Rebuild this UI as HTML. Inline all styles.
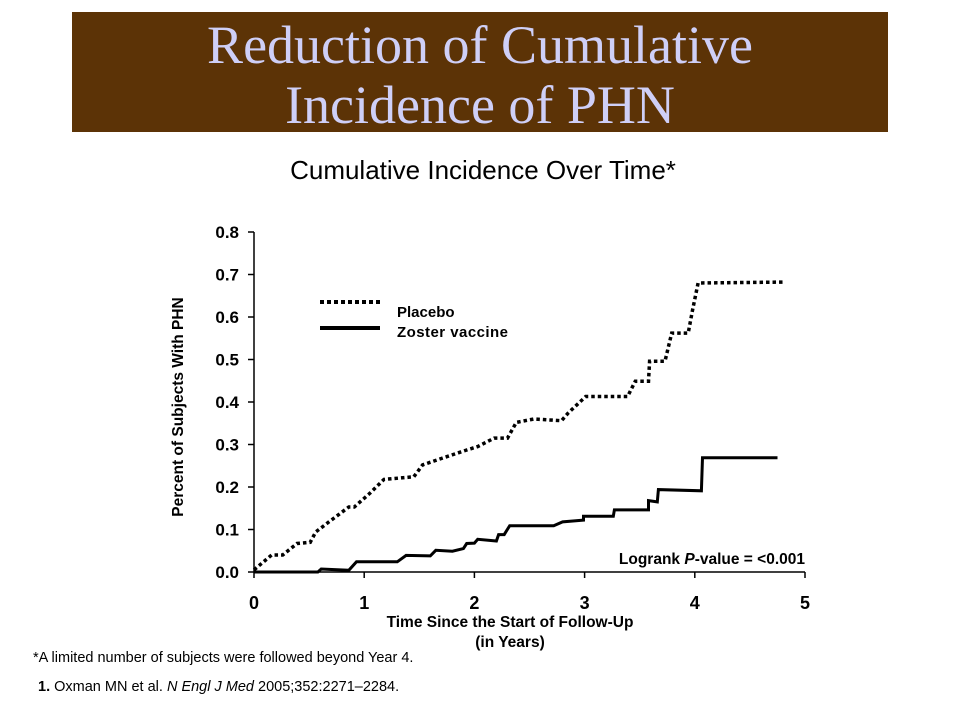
<!DOCTYPE html>
<html><head><meta charset="utf-8"><style>
body{margin:0;width:960px;height:720px;background:#fff;overflow:hidden;font-family:"Liberation Sans",Arial,sans-serif}
</style></head><body>
<svg width="960" height="720" xmlns="http://www.w3.org/2000/svg">
<rect x="72" y="12" width="816" height="120" fill="#5c3306"/>
<text x="480" y="63" text-anchor="middle" font-family="Liberation Serif,serif" font-size="54" fill="#cfcff7">Reduction of Cumulative</text>
<text x="480" y="123" text-anchor="middle" font-family="Liberation Serif,serif" font-size="54" fill="#cfcff7">Incidence of PHN</text>
<text x="483" y="179" text-anchor="middle" font-size="26" fill="#000">Cumulative Incidence Over Time*</text>
<g id="axes"></g>
<g id="series"></g>
<line x1="320" y1="302" x2="380" y2="302" stroke="#000" stroke-width="4" stroke-dasharray="4,3"/>
<line x1="320" y1="328" x2="380" y2="328" stroke="#000" stroke-width="4"/>
<text x="397" y="317" font-size="15" font-weight="bold">Placebo</text>
<text x="397" y="337" font-size="15" font-weight="bold" textLength="111">Zoster vaccine</text>
<text x="805" y="564" text-anchor="end" font-size="15.5" font-weight="bold">Logrank <tspan font-style="italic">P</tspan>-value = &lt;0.001</text>
<text x="510" y="627" text-anchor="middle" font-size="15.5" font-weight="bold">Time Since the Start of Follow-Up</text>
<text x="510" y="647" text-anchor="middle" font-size="15.5" font-weight="bold">(in Years)</text>
<text transform="translate(183,407) rotate(-90)" text-anchor="middle" font-size="15.5" font-weight="bold">Percent of Subjects With PHN</text>
<text x="33" y="662" font-size="14.5">*A limited number of subjects were followed beyond Year 4.</text>
<text x="38" y="691" font-size="14.5"><tspan font-weight="bold">1.</tspan>  Oxman MN et al. <tspan font-style="italic">N Engl J Med</tspan> 2005;352:2271–2284.</text>
</svg>
<script>
const yTicks=["0.0","0.1","0.2","0.3","0.4","0.5","0.6","0.7","0.8"];
const xTicks=["0","1","2","3","4","5"];
const placeboT=[0,0.16,0.26,0.39,0.51,0.56,0.68,0.86,0.91,1.05,1.18,1.45,1.53,1.70,1.93,2.03,2.18,2.30,2.38,2.54,2.79,2.85,3.01,3.39,3.46,3.58,3.59,3.73,3.79,3.94,3.98,4.03,4.80];
const placeboV=[0.005,0.04,0.04,0.067,0.07,0.094,0.118,0.153,0.153,0.185,0.218,0.224,0.252,0.267,0.287,0.295,0.315,0.315,0.352,0.36,0.356,0.374,0.413,0.413,0.449,0.449,0.496,0.496,0.562,0.562,0.617,0.68,0.682];
const vaccineT=[0,0.58,0.61,0.86,0.93,1.30,1.38,1.60,1.65,1.80,1.90,1.93,2.0,2.03,2.2,2.22,2.27,2.32,2.72,2.80,2.99,2.99,3.26,3.27,3.58,3.58,3.66,3.67,4.06,4.07,4.75];
const vaccineV=[0,0,0.007,0.004,0.024,0.024,0.039,0.038,0.051,0.049,0.055,0.067,0.068,0.077,0.073,0.088,0.088,0.109,0.109,0.118,0.122,0.131,0.131,0.146,0.146,0.168,0.165,0.194,0.191,0.269,0.269];
const NS="http://www.w3.org/2000/svg";
const X0=254,XS=110.2,Y0=572,YS=425;
const xs=v=>X0+v*XS, ys=v=>Y0-v*YS;
const axes=document.getElementById('axes'),series=document.getElementById('series');
function mk(tag,attrs,parent){const e=document.createElementNS(NS,tag);for(const k in attrs)e.setAttribute(k,attrs[k]);parent.appendChild(e);return e;}
let e=mk('line',{x1:X0,y1:ys(0.8),x2:X0,y2:Y0,stroke:'#000','stroke-width':1.5},axes);


e=mk('line',{x1:X0,y1:Y0,x2:xs(5),y2:Y0,stroke:'#000','stroke-width':1.5},axes);


yTicks.forEach((t,i)=>{const v=i*0.1;
 let l=mk('line',{x1:X0-6,y1:ys(v),x2:X0,y2:ys(v),stroke:'#000','stroke-width':1.5},axes);
 
 
 let tx=mk('text',{x:239,y:ys(v)+6,'text-anchor':'end','font-size':17,'font-weight':'bold'},axes);tx.textContent=t;
 
 
});
xTicks.forEach((t,i)=>{
 let l=mk('line',{x1:xs(i),y1:Y0,x2:xs(i),y2:Y0+6,stroke:'#000','stroke-width':1.5},axes);
 
 
 let tx=mk('text',{x:xs(i),y:609,'text-anchor':'middle','font-size':18,'font-weight':'bold'},axes);tx.textContent=t;
 
 
});
function pts(T,V){return T.map((t,i)=>xs(t).toFixed(1)+','+ys(V[i]).toFixed(1)).join(' ');}
let p=mk('polyline',{points:pts(placeboT,placeboV),fill:'none',stroke:'#000','stroke-width':3.5,'stroke-dasharray':'3.5,3'},series);


p=mk('polyline',{points:pts(vaccineT,vaccineV),fill:'none',stroke:'#000','stroke-width':3},series);


</script>
</body></html>
